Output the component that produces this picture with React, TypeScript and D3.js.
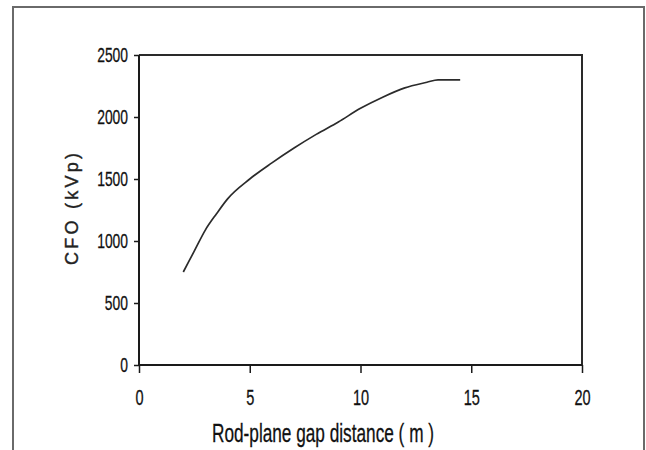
import React, { useEffect, useRef } from 'react';
import * as d3 from 'd3';

// gap distance (m) vs CFO (kVp)
const gapDistance = [2, 2.5, 3, 3.5, 4, 5, 6, 7, 8, 9, 10, 11, 12, 13, 13.5, 14.5];
const cfoValues = [750, 920, 1090, 1220, 1340, 1500, 1630, 1750, 1860, 1960, 2070, 2160, 2235, 2280, 2300, 2300];
const xTicks = [0, 5, 10, 15, 20];
const yTicks = [0, 500, 1000, 1500, 2000, 2500];

const W = 646;
const H = 450;
const FONT = '"Liberation Sans", Arial, sans-serif';

function App() {
  const svgRef = useRef<SVGSVGElement>(null);

  useEffect(() => {
    const svg = d3.select(svgRef.current);
    svg.selectAll('*').remove();

    const left = 139, right = 582, top = 55, bottom = 365;

    const x = d3.scaleLinear().domain([0, 20]).range([left, right]);
    const y = d3.scaleLinear().domain([0, 2500]).range([bottom, top]);

    // outer chart frame (bottom edge is cut off)
    svg.append('rect')
      .attr('x', 13).attr('y', 7)
      .attr('width', 631).attr('height', 480)
      .attr('fill', 'white')
      .attr('stroke', '#6a6a6a')
      .attr('stroke-width', 2);

    // plot area border
    svg.append('path')
      .attr('d', `M${left},${top}H${right}V${bottom}`)
      .attr('fill', 'none')
      .attr('stroke', '#2a2a2a')
      .attr('stroke-width', 2);

    const squeeze = (sel: any, k: number) => {
      sel.each(function (this: SVGTextElement) {
        const w = this.getComputedTextLength();
        d3.select(this).attr('textLength', w * k).attr('lengthAdjust', 'spacingAndGlyphs');
      });
    };

    const yAxis = d3.axisLeft(y).tickValues(yTicks).tickSizeInner(5).tickSizeOuter(0).tickPadding(6).tickFormat(d3.format('d'));
    const gy = svg.append('g').attr('transform', `translate(${left},0)`).call(yAxis);
    gy.select('.domain').remove();
    gy.selectAll('line').attr('stroke', '#1a1a1a').attr('stroke-width', 1.5);
    gy.selectAll('text').attr('font-family', FONT).attr('font-size', 21).attr('fill', '#111').attr('stroke', '#111').attr('stroke-width', 0.3).attr('dy', '0.32em');
    squeeze(gy.selectAll('text'), 0.66);

    const xAxis = d3.axisBottom(x).tickValues(xTicks).tickSizeInner(8).tickSizeOuter(0).tickPadding(16).tickFormat(d3.format('d'));
    const gx = svg.append('g').attr('transform', `translate(0,${bottom})`).call(xAxis);
    gx.select('.domain').remove();
    gx.selectAll('line').attr('stroke', '#1a1a1a').attr('stroke-width', 1.5);
    gx.selectAll('text').attr('font-family', FONT).attr('font-size', 22).attr('fill', '#111').attr('stroke', '#111').attr('stroke-width', 0.3);
    squeeze(gx.selectAll('text'), 0.66);

    // axis lines
    svg.append('path')
      .attr('d', `M${left},${top}V${bottom}H${right}`)
      .attr('fill', 'none')
      .attr('stroke', '#1a1a1a')
      .attr('stroke-width', 2);

    const pts = gapDistance.map((d, i) => [d, cfoValues[i]] as [number, number]);
    const line = d3.line<[number, number]>().x(d => x(d[0])).y(d => y(d[1])).curve(d3.curveMonotoneX);
    svg.append('path')
      .datum(pts)
      .attr('d', line)
      .attr('fill', 'none')
      .attr('stroke', '#2b2b2b')
      .attr('stroke-width', 1.7);

    // axis titles
    svg.append('text')
      .attr('x', 212).attr('y', 442)
      .attr('font-family', FONT).attr('font-size', 26).attr('fill', '#111').attr('stroke', '#111').attr('stroke-width', 0.3)
      .attr('textLength', 222).attr('lengthAdjust', 'spacingAndGlyphs')
      .text('Rod-plane gap distance ( m )');

    svg.append('text')
      .attr('transform', 'translate(78,265) rotate(-90)')
      .attr('font-family', FONT).attr('font-size', 18).attr('fill', '#222').attr('stroke', '#222').attr('stroke-width', 0.4)
      .attr('textLength', 112).attr('lengthAdjust', 'spacing')
      .text('CFO (kVp)');
  }, []);

  return (
    <svg ref={svgRef} width={W} height={H} style={{ position: 'absolute', left: 0, top: 0, background: 'white' }}></svg>
  );
}

export default App;
